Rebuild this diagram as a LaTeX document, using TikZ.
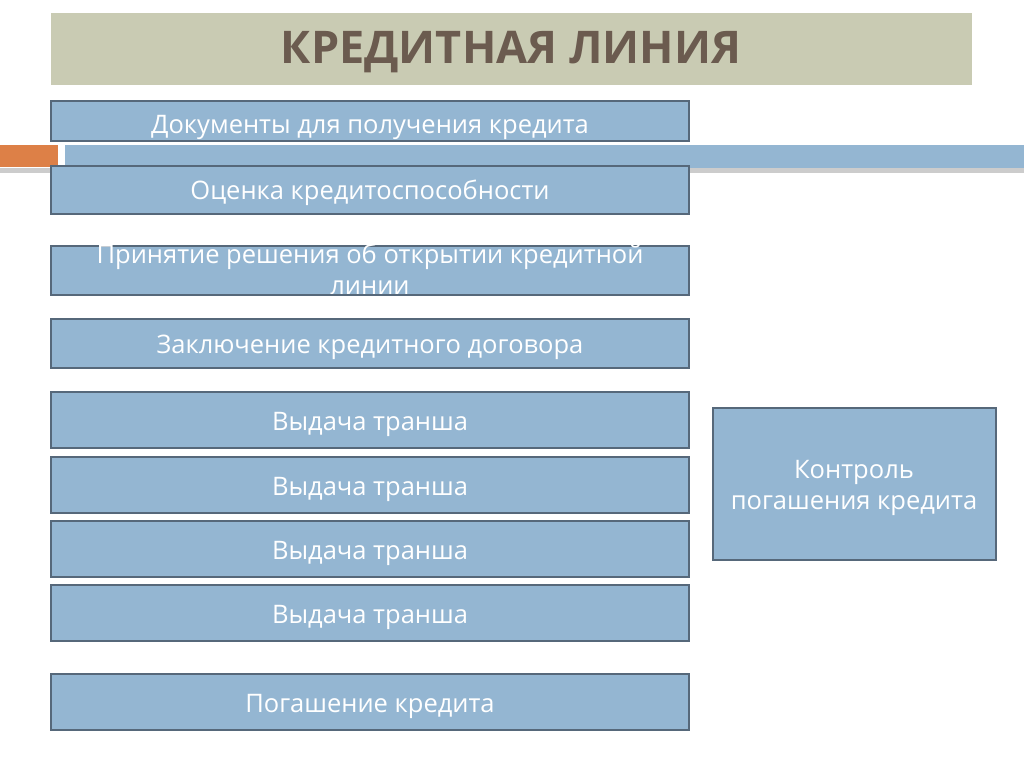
\documentclass[tikz,border=0pt]{standalone}
\usepackage{fontspec}
\setmainfont{Open Sans}
\definecolor{titlebg}{HTML}{C9CBB3}
\definecolor{titlefg}{HTML}{6B5B4F}
\definecolor{boxbg}{HTML}{94B6D2}
\definecolor{boxbd}{HTML}{56687A}
\definecolor{orng}{HTML}{DD8047}
\begin{document}
\begin{tikzpicture}[x=1pt,y=-1pt,
  bx/.style={fill=boxbg,draw=boxbd,line width=1.6pt},
  tx/.style={text=white,font=\fontsize{25.5}{31}\selectfont,align=center}]
\useasboundingbox (0,0) rectangle (1024,768);
\fill[white] (0,0) rectangle (1024,768);
\fill[titlebg] (51,13) rectangle (972,85);
\node[text=titlefg,font=\fontsize{45}{50}\selectfont\bfseries] (title) at (511,52) {КРЕДИТНАЯ ЛИНИЯ};
% decorative bar
\fill[gray!40] (0,168) rectangle (1024,173);
\fill[orng] (0,145) rectangle (58,167);
\fill[boxbg] (65,145) rectangle (1024,168);
% boxes
\foreach \n/\a/\b in {b1/101/141,b2/166/214,b4/319/368,b5/392/448,b6/457/513,b7/521/577,b8/585/641,b9/674/730}
  {\path[bx] (51,\a) rectangle (689,\b); \coordinate (\n) at (370,{(\a+\b)/2+4});}
\path[bx] (51,246) rectangle (689,295);
\node[tx] (t1) at (370,127) {Документы для получения кредита};
\node[tx] (t2) at ([yshift=1]b2) {Оценка кредитоспособности};
\node[tx,anchor=north] (t3) at (370,240) {Принятие решения об открытии кредитной\\линии};
\draw[boxbd,line width=1.6pt] (51,295) -- (689,295);
\node[tx] (t4) at (b4) {Заключение кредитного договора};
\node[tx] (t5) at (b5) {Выдача транша};
\node[tx] (t6) at (b6) {Выдача транша};
\node[tx] (t7) at (b7) {Выдача транша};
\node[tx] (t8) at (b8) {Выдача транша};
\node[tx] (t9) at (b9) {Погашение кредита};
\path[bx] (713,408) rectangle (996,560);
\node[tx] (k) at (854,488) {Контроль\\погашения кредита};
\end{tikzpicture}
\end{document}
